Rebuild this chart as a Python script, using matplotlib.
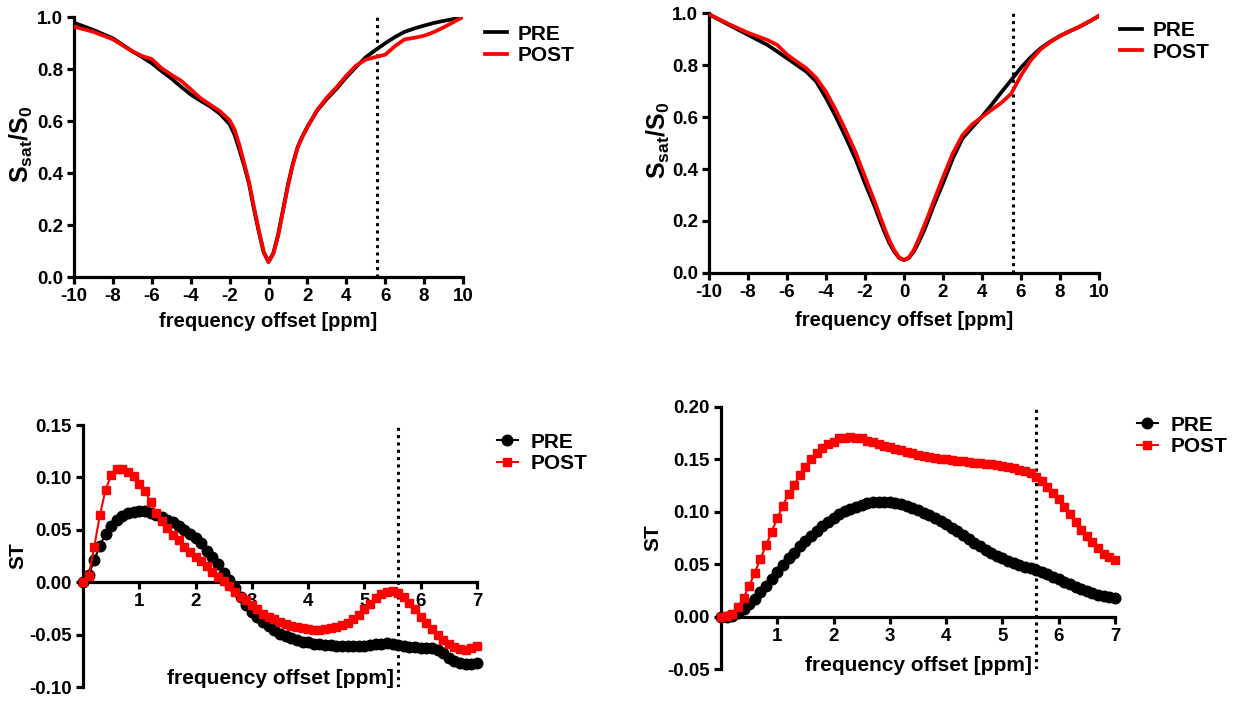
import matplotlib
matplotlib.use("Agg")
import matplotlib.pyplot as plt
from matplotlib.ticker import FormatStrFormatter

plt.rcParams['font.family'] = ['Liberation Sans', 'DejaVu Sans']
plt.rcParams['font.weight'] = 'bold'
plt.rcParams['axes.unicode_minus'] = False
plt.rcParams['mathtext.fontset'] = 'custom'
plt.rcParams['mathtext.rm'] = 'Liberation Sans:bold'
plt.rcParams['mathtext.it'] = 'Liberation Sans:bold'
plt.rcParams['mathtext.bf'] = 'Liberation Sans:bold'

# ---------------- data ----------------
z_offsets = [-10, -9, -8, -7, -6.5, -6, -5.5, -5, -4.5, -4, -3.5, -3, -2.5, -2, -1.75,
             -1.5, -1.25, -1, -0.75, -0.5, -0.25, 0, 0.25, 0.5, 0.75, 1, 1.25, 1.5,
             1.75, 2, 2.5, 3, 3.5, 4, 4.5, 5, 5.5, 6, 6.5, 7, 7.5, 8, 8.5, 9, 9.5, 10]

tl_pre = [0.978, 0.950, 0.918, 0.868, 0.846, 0.822, 0.792, 0.764, 0.732, 0.702, 0.678,
          0.656, 0.628, 0.588, 0.548, 0.490, 0.428, 0.358, 0.262, 0.175, 0.095, 0.058,
          0.092, 0.165, 0.260, 0.355, 0.435, 0.500, 0.542, 0.578, 0.640, 0.685, 0.724,
          0.768, 0.808, 0.845, 0.873, 0.899, 0.923, 0.943, 0.956, 0.967, 0.977, 0.985,
          0.992, 1.000]
tl_post = [0.963, 0.943, 0.914, 0.868, 0.850, 0.838, 0.803, 0.778, 0.755, 0.722, 0.688,
           0.663, 0.638, 0.603, 0.568, 0.508, 0.438, 0.365, 0.270, 0.180, 0.098, 0.058,
           0.090, 0.160, 0.255, 0.350, 0.432, 0.498, 0.540, 0.576, 0.642, 0.690, 0.730,
           0.774, 0.813, 0.836, 0.846, 0.855, 0.888, 0.914, 0.920, 0.928, 0.942, 0.960,
           0.980, 1.000]

tr_pre = [0.995, 0.955, 0.916, 0.877, 0.852, 0.826, 0.800, 0.774, 0.736, 0.673, 0.602,
          0.524, 0.441, 0.345, 0.300, 0.255, 0.205, 0.158, 0.115, 0.082, 0.058, 0.050,
          0.058, 0.082, 0.118, 0.158, 0.205, 0.255, 0.300, 0.345, 0.440, 0.518, 0.560,
          0.602, 0.648, 0.696, 0.742, 0.790, 0.830, 0.864, 0.890, 0.912, 0.930, 0.947,
          0.967, 0.988]
tr_post = [0.995, 0.958, 0.924, 0.896, 0.877, 0.840, 0.813, 0.787, 0.750, 0.697, 0.627,
           0.550, 0.467, 0.370, 0.322, 0.274, 0.222, 0.172, 0.125, 0.088, 0.060, 0.050,
           0.060, 0.088, 0.130, 0.175, 0.222, 0.272, 0.320, 0.368, 0.460, 0.530, 0.572,
           0.600, 0.628, 0.655, 0.690, 0.760, 0.818, 0.860, 0.888, 0.912, 0.930, 0.948,
           0.968, 0.990]

st_offsets = [0.0, 0.1, 0.2, 0.3, 0.4, 0.5, 0.6, 0.7, 0.8, 0.9, 1.0, 1.1, 1.2, 1.3, 1.4,
              1.5, 1.6, 1.7, 1.8, 1.9, 2.0, 2.1, 2.2, 2.3, 2.4, 2.5, 2.6, 2.7, 2.8, 2.9,
              3.0, 3.1, 3.2, 3.3, 3.4, 3.5, 3.6, 3.7, 3.8, 3.9, 4.0, 4.1, 4.2, 4.3, 4.4,
              4.5, 4.6, 4.7, 4.8, 4.9, 5.0, 5.1, 5.2, 5.3, 5.4, 5.5, 5.6, 5.7, 5.8, 5.9,
              6.0, 6.1, 6.2, 6.3, 6.4, 6.5, 6.6, 6.7, 6.8, 6.9, 7.0]

bl_pre = [0.000, 0.007, 0.021, 0.035, 0.046, 0.054, 0.059, 0.063, 0.066, 0.067, 0.068,
          0.0675, 0.066, 0.064, 0.062, 0.059, 0.057, 0.054, 0.050, 0.046, 0.042, 0.037,
          0.030, 0.024, 0.017, 0.009, 0.002, -0.006, -0.014, -0.022, -0.028, -0.033,
          -0.038, -0.042, -0.0455, -0.049, -0.051, -0.053, -0.055, -0.057, -0.0575,
          -0.0585, -0.059, -0.060, -0.060, -0.0605, -0.061, -0.061, -0.061, -0.061,
          -0.0605, -0.060, -0.059, -0.0585, -0.058, -0.0585, -0.0595, -0.061, -0.062,
          -0.062, -0.063, -0.063, -0.063, -0.065, -0.068, -0.072, -0.075, -0.077,
          -0.078, -0.078, -0.077]
bl_post = [0.000, 0.006, 0.034, 0.064, 0.088, 0.102, 0.108, 0.108, 0.105, 0.101, 0.094,
           0.087, 0.077, 0.066, 0.058, 0.052, 0.045, 0.040, 0.034, 0.029, 0.024, 0.020,
           0.015, 0.010, 0.005, 0.001, -0.004, -0.009, -0.014, -0.017, -0.022, -0.026,
           -0.030, -0.033, -0.035, -0.038, -0.040, -0.042, -0.043, -0.044, -0.045,
           -0.0455, -0.0455, -0.045, -0.044, -0.043, -0.041, -0.0385, -0.035, -0.031,
           -0.026, -0.021, -0.015, -0.011, -0.009, -0.008, -0.010, -0.014, -0.020,
           -0.026, -0.033, -0.039, -0.045, -0.050, -0.055, -0.059, -0.062, -0.064,
           -0.0645, -0.063, -0.061]

br_pre = [0.000, 0.000, 0.001, 0.0035, 0.007, 0.012, 0.017, 0.023, 0.0295, 0.036, 0.043,
          0.049, 0.0555, 0.061, 0.067, 0.072, 0.077, 0.082, 0.086, 0.090, 0.094, 0.098,
          0.1005, 0.103, 0.105, 0.1065, 0.108, 0.109, 0.1095, 0.1095, 0.109, 0.1085,
          0.107, 0.1055, 0.1035, 0.102, 0.099, 0.097, 0.094, 0.091, 0.088, 0.085,
          0.0815, 0.078, 0.0745, 0.0705, 0.0675, 0.064, 0.061, 0.058, 0.0555, 0.053,
          0.051, 0.049, 0.0475, 0.046, 0.044, 0.043, 0.0405, 0.038, 0.036, 0.033, 0.031,
          0.028, 0.026, 0.024, 0.0225, 0.021, 0.020, 0.019, 0.018]
br_post = [0.000, 0.0003, 0.0025, 0.009, 0.018, 0.029, 0.042, 0.055, 0.068, 0.081, 0.094,
           0.106, 0.117, 0.126, 0.135, 0.143, 0.150, 0.156, 0.161, 0.165, 0.167, 0.170,
           0.1705, 0.171, 0.1705, 0.170, 0.168, 0.167, 0.165, 0.163, 0.162, 0.160,
           0.1585, 0.157, 0.156, 0.154, 0.1535, 0.1525, 0.1515, 0.1505, 0.150, 0.149,
           0.1485, 0.148, 0.1475, 0.147, 0.1465, 0.146, 0.1455, 0.145, 0.144, 0.143,
           0.142, 0.140, 0.139, 0.137, 0.1335, 0.129, 0.124, 0.118, 0.112, 0.105, 0.098,
           0.090, 0.083, 0.077, 0.071, 0.065, 0.060, 0.057, 0.054]

series_names = ['PRE', 'POST']
marker_line = 5.6
z_xticks = [-10, -8, -6, -4, -2, 0, 2, 4, 6, 8, 10]
z_yticks = [0.0, 0.2, 0.4, 0.6, 0.8, 1.0]
st_xticks = [1, 2, 3, 4, 5, 6, 7]
bl_yticks = [-0.10, -0.05, 0.00, 0.05, 0.10, 0.15]
br_yticks = [-0.05, 0.00, 0.05, 0.10, 0.15, 0.20]

# ---------------- figure ----------------
W, H = 1239, 701
fig = plt.figure(figsize=(W / 100, H / 100), dpi=100)


def px_axes(l, t, r, b):
    return fig.add_axes([l / W, 1 - b / H, (r - l) / W, (b - t) / H])


TICK_FS = 13.5
LEG_FS = 15


def style(ax):
    for s in ['top', 'right']:
        ax.spines[s].set_visible(False)
    for s in ['left', 'bottom']:
        ax.spines[s].set_linewidth(2.3)
    ax.tick_params(direction='out', length=5, width=2.3, labelsize=TICK_FS, pad=3)


axes_z = [px_axes(74, 17, 463, 277), px_axes(709, 13, 1099, 273)]
z_data = [(tl_pre, tl_post), (tr_pre, tr_post)]
z_leg = [(485, 45), (1120, 41.5)]
z_lblx = [-0.134, -0.131]
z_xlbly = [-0.173, -0.181]
for ax, (pre, post), (lx, ly), ylx, xly in zip(axes_z, z_data, z_leg, z_lblx, z_xlbly):
    style(ax)
    ax.plot(z_offsets, pre, color='black', lw=2.7, label=series_names[0], zorder=3,
            solid_joinstyle='round')
    ax.plot(z_offsets, post, color='#ff0000', lw=2.7, label=series_names[1], zorder=3,
            solid_joinstyle='round')
    ax.axvline(marker_line, color='black', lw=2.2, ls=(0, (1, 1.4)), zorder=2)
    ax.set_xlim(-10, 10)
    ax.set_ylim(0, 1.0)
    ax.set_xticks(z_xticks)
    ax.set_yticks(z_yticks)
    ax.yaxis.set_major_formatter(FormatStrFormatter('%.1f'))
    ax.set_xlabel('frequency offset [ppm]', fontsize=14.5, fontweight='bold')
    ax.xaxis.set_label_coords(0.5, xly)
    ax.xaxis.label.set_va('center')
    ax.set_ylabel(r'S$_{sat}$/S$_{0}$', fontsize=18, fontweight='bold')
    ax.yaxis.set_label_coords(ylx, 0.51)
    ax.yaxis.label.set_va('center')
    ax.legend(loc='center left', bbox_to_anchor=(lx / W, 1 - ly / H),
              bbox_transform=fig.transFigure, frameon=False,
              handlelength=1.05, handletextpad=0.5, labelspacing=0.12,
              borderpad=0, borderaxespad=0, prop={'weight': 'bold', 'size': LEG_FS})

axes_st = [px_axes(83, 425, 477, 687), px_axes(721, 407, 1115, 669)]
st_data = [(bl_pre, bl_post), (br_pre, br_post)]
st_ylim = [(-0.10, 0.15), (-0.05, 0.20)]
st_yt = [bl_yticks, br_yticks]
st_leg = [(497, 453), (1137, 436)]
st_lblx = [-0.165, -0.173]
st_xlbly = [0.034, 0.013]
for ax, (pre, post), yl, yt, (lx, ly), ylx, xly in zip(axes_st, st_data, st_ylim, st_yt,
                                                       st_leg, st_lblx, st_xlbly):
    style(ax)
    ax.spines['bottom'].set_position(('data', 0))
    ax.plot(st_offsets, pre, color='black', lw=1.5, marker='o', ms=7.6,
            label=series_names[0], zorder=3, clip_on=False)
    ax.plot(st_offsets, post, color='#ff0000', lw=1.5, marker='s', ms=6.2,
            label=series_names[1], zorder=3.1, clip_on=False)
    ax.axvline(marker_line, color='black', lw=2.2, ls=(0, (1, 1.4)), zorder=2)
    ax.set_xlim(0, 7)
    ax.set_ylim(*yl)
    ax.set_xticks(st_xticks)
    ax.set_yticks(yt)
    ax.yaxis.set_major_formatter(FormatStrFormatter('%.2f'))
    ax.set_xlabel('frequency offset [ppm]', fontsize=15, fontweight='bold')
    ax.xaxis.set_label_coords(0.5, xly)
    ax.xaxis.label.set_va('center')
    ax.set_ylabel('ST', fontsize=15, fontweight='bold')
    ax.yaxis.set_label_coords(ylx, 0.5)
    ax.yaxis.label.set_va('center')
    ax.legend(loc='center left', bbox_to_anchor=(lx / W, 1 - ly / H),
              bbox_transform=fig.transFigure, frameon=False,
              handlelength=1.0, handletextpad=0.63, labelspacing=0.12,
              borderpad=0, borderaxespad=0, prop={'weight': 'bold', 'size': LEG_FS})

fig.savefig('out.png', dpi=100)
